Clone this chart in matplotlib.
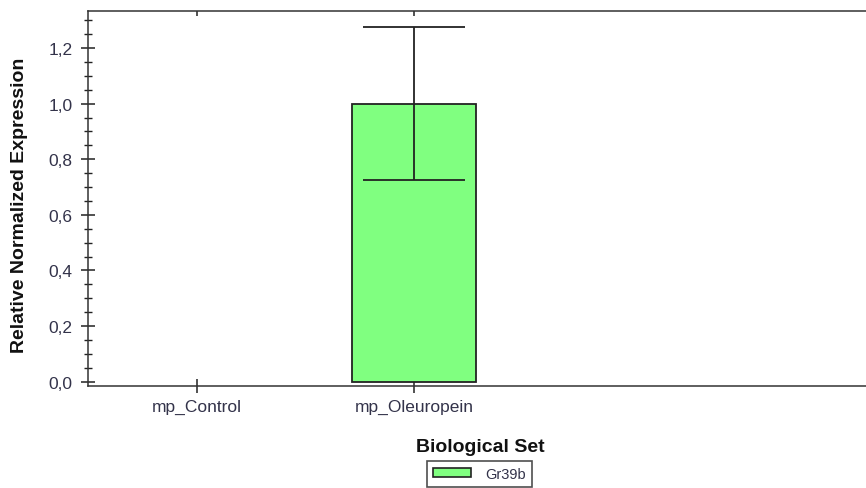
import matplotlib.pyplot as plt
from matplotlib.ticker import FuncFormatter, MultipleLocator
from matplotlib.patches import Patch
from matplotlib import lines as mlines

plt.rcParams['font.family'] = ['Liberation Sans', 'DejaVu Sans']

# data
categories = ['mp_Control', 'mp_Oleuropein']
expression = [None, 1.0]
errors = [None, 0.275]
series_name = 'Gr39b'

W, H = 866, 489
fig = plt.figure(figsize=(W / 100, H / 100), dpi=100)
ax_l, ax_r, ax_b, ax_t = 88, 871.5, 386.7, 11.7
ax = fig.add_axes([ax_l / W, 1 - ax_b / H, (ax_r - ax_l) / W, (ax_b - ax_t) / H])

green = '#80ff80'
dark = '#222222'
label_col = '#33334a'

xs = [i for i, v in enumerate(expression) if v is not None]
vals = [expression[i] for i in xs]
errs = [errors[i] for i in xs]
ax.bar(xs, vals, width=0.57, color=green, edgecolor=dark, linewidth=1.3, zorder=2)
ax.errorbar(xs, vals, yerr=errs, fmt='none', ecolor=dark, elinewidth=1.3,
            capsize=36.4, capthick=1.3, zorder=3)

ax.set_xlim(-0.501, 3.103)
ax.set_ylim(-0.0144, 1.3345)
ax.set_xticks(range(len(categories)))
ax.set_xticklabels(categories)

ax.yaxis.set_major_locator(MultipleLocator(0.2))
ax.yaxis.set_minor_locator(MultipleLocator(0.05))
ax.yaxis.set_major_formatter(FuncFormatter(lambda v, p: f'{v:.1f}'.replace('.', ',')))

for s in ax.spines.values():
    s.set_color('#333333')
    s.set_linewidth(1.1)

ax.tick_params(axis='y', which='major', direction='inout', length=9.4, width=1.1,
               color=dark, labelsize=12.5, labelcolor=label_col, pad=6.5, right=True)
ax.tick_params(axis='y', which='minor', direction='inout', length=5.8, width=1.0,
               color=dark, right=False)
ax.tick_params(axis='x', which='major', direction='inout', length=9.4, width=1.1,
               color=dark, labelsize=12.5, labelcolor=label_col, pad=5, top=True)

# right and top ticks only point inwards
for t in ax.yaxis.get_major_ticks():
    t.tick2line.set_marker(mlines.TICKLEFT)
    t.tick2line.set_markersize(4.3)
    t.tick2line.set_color('#888888')
for t in ax.xaxis.get_major_ticks():
    t.tick2line.set_marker(mlines.TICKDOWN)
    t.tick2line.set_markersize(3.6)

fig.text(20 / W, 1 - 205 / H, 'Relative Normalized Expression', fontsize=14,
         fontweight='bold', rotation=90, ha='center', va='center', color='#111111')

fig.text(480 / W, 1 - 448 / H, 'Biological Set', fontsize=14, fontweight='bold',
         ha='center', va='center', color='#111111')

handle = Patch(facecolor=green, edgecolor=dark, linewidth=1.2, label=series_name)
leg = fig.legend(handles=[handle], loc='center', bbox_to_anchor=(479.5 / W, 1 - 475 / H),
                 fontsize=10.5, frameon=True, fancybox=False, edgecolor=dark,
                 handlelength=2.6, handleheight=0.55, borderpad=0.4, handletextpad=1.0)
leg.get_frame().set_linewidth(1.2)
for txt in leg.get_texts():
    txt.set_color(label_col)

fig.savefig('out.png', dpi=100)
